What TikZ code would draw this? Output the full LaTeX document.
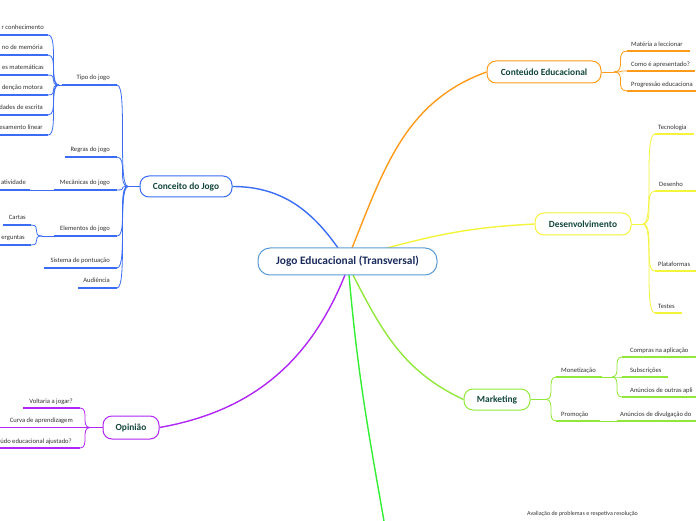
\documentclass[tikz,border=0pt]{standalone}
\usepackage{fontspec}
\setmainfont{Carlito}
\definecolor{cblue}{HTML}{3A6CF4}
\definecolor{corange}{HTML}{FF9A1A}
\definecolor{cyellow}{HTML}{F4F43A}
\definecolor{clime}{HTML}{92E83A}
\definecolor{cgreen}{HTML}{33EE33}
\definecolor{cpurple}{HTML}{B026F5}
\definecolor{rootline}{HTML}{5B9BD5}
\definecolor{roottext}{HTML}{1A2B5C}
\definecolor{topictext}{HTML}{12463A}
\definecolor{txtgray}{HTML}{333333}
\tikzset{
  lbl/.style={font=\fontsize{6.6}{7.5}\selectfont, text=txtgray, inner sep=0pt},
  topic/.style={draw, line width=1pt, rounded corners=9pt, fill=white,
    font=\bfseries\fontsize{9.4}{10.5}\selectfont, text=topictext, inner sep=0pt},
  rootbox/.style={draw=rootline, line width=1pt, rounded corners=12pt, fill=white,
    font=\bfseries\fontsize{11.4}{13}\selectfont, text=roottext, inner sep=0pt,
    minimum width=179pt, minimum height=27pt},
  ulin/.style={line width=1.8pt},
  brline/.style={line width=0.8pt},
  mainline/.style={line width=1.4pt}
}
% left leaf: name, xstart, xend, Y, colour, text right x, text
\newcommand\lfL[7]{%
  \coordinate (#1-s) at (#2,#4); \coordinate (#1-e) at (#3,#4);
  \draw[ulin,#5] (#1-s) -- (#1-e);
  \node[lbl,anchor=base east] (#1) at (#6,#4+5) {#7};}
% right leaf: name, xstart, xend, Y, colour, text left x, text
\newcommand\lfR[7]{%
  \coordinate (#1-s) at (#2,#4); \coordinate (#1-e) at (#3,#4);
  \draw[ulin,#5] (#1-s) -- (#1-e);
  \node[lbl,anchor=base west] (#1) at (#6,#4+4.5) {#7};}
\begin{document}
\begin{tikzpicture}[x=1pt,y=1pt]
\useasboundingbox (0,0) rectangle (696,520);
\clip (0,0) rectangle (696,520);

% root exits
\coordinate (rb) at (338,272);
\coordinate (ro) at (352,272);
\coordinate (ry) at (387,272);
\coordinate (rl) at (353,245);
\coordinate (rg) at (349,245);
\coordinate (rp) at (345,245);
\coordinate (gend) at (384,-1);

% main nodes
\node[topic, draw=cblue, minimum width=92pt, minimum height=21pt] (conc) at (186,333.5) {Conceito do Jogo};
\node[topic, draw=corange, minimum width=114pt, minimum height=22pt] (cont) at (544,448) {Conteúdo Educacional};
\node[topic, draw=cyellow, minimum width=96pt, minimum height=22pt] (dev) at (583,296) {Desenvolvimento};
\node[topic, draw=clime, minimum width=66pt, minimum height=21pt] (mkt) at (497,120.5) {Marketing};
\node[topic, draw=cpurple, minimum width=56pt, minimum height=23pt] (opi) at (131,92.5) {Opinião};

\draw[mainline,cblue] (rb) to[out=125,in=0] (conc.east);
\draw[mainline,corange] (ro) to[out=68,in=200] (cont.west);
\draw[mainline,cyellow] (ry) to[out=15,in=183] (dev.west);
\draw[mainline,clime] (rl) to[out=-63,in=155] (mkt.west);
\draw[mainline,cgreen] (rg) to[out=-85,in=100] (gend);
\draw[mainline,cpurple] (rp) to[out=-112,in=10] (opi.east);

\node[rootbox] (root) at (347.5,258.5) {Jogo Educacional (Transversal)};

% ---- Conceito do Jogo
\coordinate (hconc) at (128,333.5);
\draw[brline,cblue] (hconc) -- (conc.west);
\lfL{tipo}{62}{117}{435}{cblue}{110}{Tipo do jogo}
\lfL{regras}{65}{117}{363}{cblue}{110}{Regras do jogo}
\lfL{mec}{54}{117}{330}{cblue}{110}{Mecânicas do jogo}
\lfL{elem}{54}{117}{284}{cblue}{110}{Elementos do jogo}
\lfL{sist}{44}{117}{252}{cblue}{110}{Sistema de pontuação}
\lfL{aud}{78}{117}{232}{cblue}{110}{Audiência}
\foreach \n in {tipo,regras,mec,elem,sist,aud}
  \draw[brline,cblue] (\n-e) .. controls (\n-e -| hconc) and (hconc -| \n-e) .. (hconc);

% Tipo do jogo children
\coordinate (htipo) at (59,435);
\draw[brline,cblue] (htipo) -- (tipo-s);
\lfL{t1}{-2}{48}{485}{cblue}{44}{r conhecimento}
\lfL{t2}{-2}{48}{465}{cblue}{43}{no de memória}
\lfL{t3}{-2}{48}{445}{cblue}{44}{es matemáticas}
\lfL{t4}{-2}{48}{425}{cblue}{43}{denção motora}
\lfL{t5}{-2}{48}{405}{cblue}{43}{dades de escrita}
\lfL{t6}{-2}{48}{385}{cblue}{43}{esamento linear}
\foreach \n in {t1,t2,t3,t4,t5,t6}
  \draw[brline,cblue] (\n-e) .. controls (\n-e -| htipo) and (htipo -| \n-e) .. (htipo);

% Mecanicas child
\lfL{ativ}{-2}{30}{330}{cblue}{26}{atividade}
\draw[brline,cblue] (ativ-e) -- (mec-s);

% Elementos children
\coordinate (helem) at (42,284);
\draw[brline,cblue] (helem) -- (elem-s);
\lfL{cartas}{3}{31}{295}{cblue}{26}{Cartas}
\lfL{perg}{-2}{31}{275}{cblue}{25}{erguntas}
\foreach \n in {cartas,perg}
  \draw[brline,cblue] (\n-e) .. controls (\n-e -| helem) and (helem -| \n-e) .. (helem);

% ---- Opiniao
\coordinate (hopi) at (90,92.5);
\draw[brline,cpurple] (hopi) -- (opi.west);
\lfL{volt}{23}{80}{112}{cpurple}{73}{Voltaria a jogar?}
\lfL{curva}{-2}{80}{92.5}{cpurple}{73}{Curva de aprendizagem}
\lfL{ajust}{-2}{80}{72}{cpurple}{72}{údo educacional ajustado?}
\foreach \n in {volt,curva,ajust}
  \draw[brline,cpurple] (\n-e) .. controls (\n-e -| hopi) and (hopi -| \n-e) .. (hopi);

% ---- Conteudo Educacional
\coordinate (hcont) at (614,448);
\draw[brline,corange] (cont.east) -- (hcont);
\lfR{mat}{627}{690}{469}{corange}{631}{Matéria a leccionar}
\lfR{como}{627}{695}{449}{corange}{631}{Como é apresentado?}
\lfR{prog}{627}{698}{429}{corange}{631}{Progressão educaciona}
\foreach \n in {mat,como,prog}
  \draw[brline,corange] (hcont) .. controls (hcont -| \n-s) and (\n-s -| hcont) .. (\n-s);

% ---- Desenvolvimento
\coordinate (hdev) at (643,296);
\draw[brline,cyellow] (dev.east) -- (hdev);
\lfR{tec}{655}{694}{386}{cyellow}{658}{Tecnologia}
\lfR{des}{655}{698}{329}{cyellow}{659}{Desenho}
\lfR{plat}{655}{698}{249}{cyellow}{658}{Plataformas}
\lfR{test}{655}{682}{207}{cyellow}{658}{Testes}
\foreach \n in {tec,des,plat,test}
  \draw[brline,cyellow] (hdev) .. controls (hdev -| \n-s) and (\n-s -| hdev) .. (\n-s);

% ---- Marketing
\coordinate (hmkt) at (546,120.5);
\draw[brline,clime] (mkt.east) -- (hmkt);
\lfR{mon}{556}{602}{143}{clime}{561}{Monetização}
\lfR{prom}{556}{600}{99}{clime}{561}{Promoção}
\foreach \n in {mon,prom}
  \draw[brline,clime] (hmkt) .. controls (hmkt -| \n-s) and (\n-s -| hmkt) .. (\n-s);
\coordinate (hmon) at (612,143);
\draw[brline,clime] (mon-e) -- (hmon);
\lfR{comp}{622}{698}{163}{clime}{630}{Compras na aplicação}
\lfR{subs}{622}{668}{143}{clime}{630}{Subscrições}
\lfR{anun}{622}{698}{123}{clime}{630}{Anúncios de outras apli}
\foreach \n in {comp,subs,anun}
  \draw[brline,clime] (hmon) .. controls (hmon -| \n-s) and (\n-s -| hmon) .. (\n-s);
\lfR{div}{617}{698}{99}{clime}{620}{Anúncios de divulgação do}
\draw[brline,clime] (prom-e) -- (div-s);

% ---- off-page branch text
\node[lbl,anchor=base west,font=\fontsize{6}{7}\selectfont] (aval) at (527,5) {Avaliação de problemas e respetiva resolução};
\end{tikzpicture}
\end{document}
